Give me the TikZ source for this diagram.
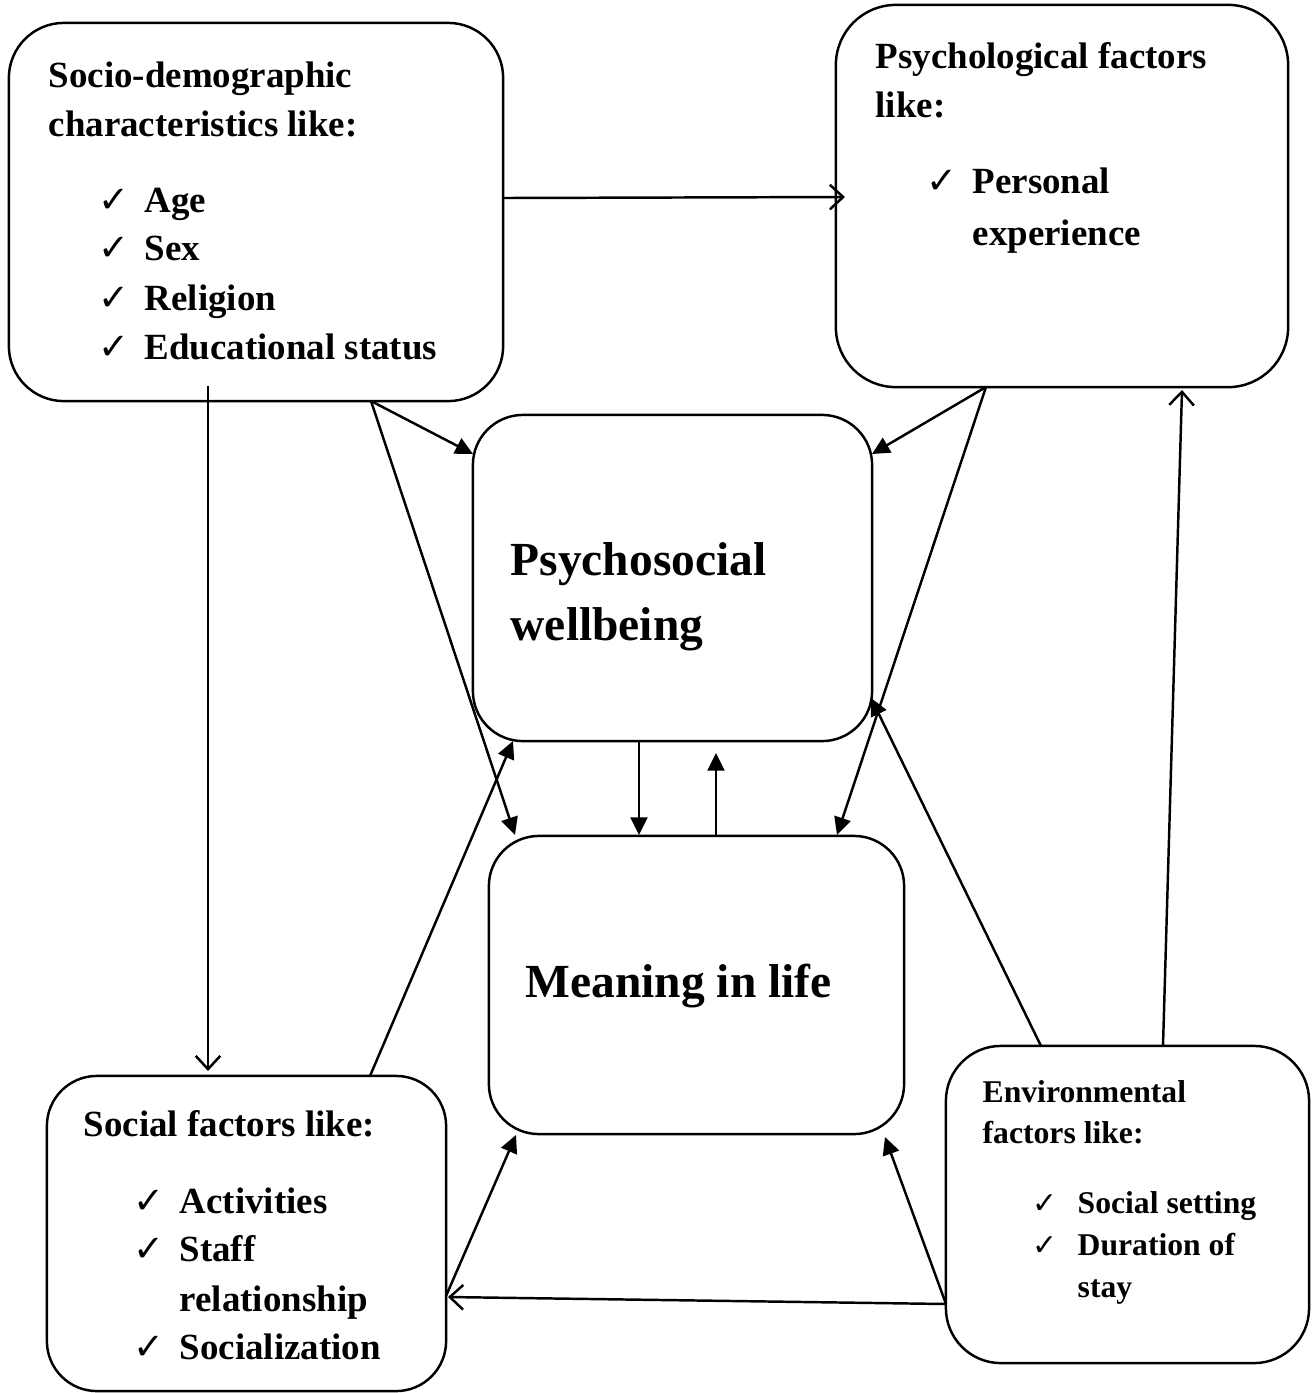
\documentclass[tikz,border=0pt]{standalone}
\usepackage{fontspec}
\setmainfont{Liberation Serif}
\newfontfamily\chkfont{DejaVu Sans}
\usetikzlibrary{arrows.meta}
\begin{document}
\begin{tikzpicture}[x=0.01cm,y=-0.01cm,
  box/.style={draw, line width=0.7pt, rounded corners=0.5cm, inner sep=0pt, rectangle},
  txt/.style={anchor=base west, inner sep=0pt, font=\bfseries\fontsize{10.5pt}{12pt}\selectfont},
  txts/.style={anchor=base west, inner sep=0pt, font=\bfseries\fontsize{9pt}{11pt}\selectfont},
  txtb/.style={anchor=base west, inner sep=0pt, font=\bfseries\fontsize{13.5pt}{16pt}\selectfont},
  ck/.style={anchor=base west, inner sep=0pt, font=\chkfont\fontsize{10.5pt}{12pt}\selectfont},
  cks/.style={anchor=base west, inner sep=0pt, font=\chkfont\fontsize{8.5pt}{10pt}\selectfont},
  fa/.style={line width=0.7pt, -{Triangle[length=5pt,width=4.8pt]}},
  oa/.style={line width=0.7pt, -{Straight Barb[length=3.8pt,width=7pt]}},
]
\useasboundingbox (0,0) rectangle (1315,1393);

% boxes
\node[box, rounded corners=0.55cm, minimum width=4.94cm, minimum height=3.78cm] (socio) at (256,212) {};
\node[box, rounded corners=0.6cm, minimum width=4.52cm, minimum height=3.82cm] (psych) at (1062,196) {};
\node[box, minimum width=3.99cm, minimum height=3.26cm] (psyw) at (672.5,578) {};
\node[box, minimum width=4.15cm, minimum height=2.98cm] (mean) at (696.5,985) {};
\node[box, minimum width=3.99cm, minimum height=3.15cm] (social) at (246.5,1233.5) {};
\node[box, rounded corners=0.55cm, minimum width=3.63cm, minimum height=3.17cm] (env) at (1127.5,1204.5) {};

% socio texts
\node[txt] (s1) at (48,87) {Socio-demographic};
\node[txt] (s2) at (48,136) {characteristics like:};
\node[ck] (sc1) at (98,212) {✓};
\node[txt] (s3) at (144,212) {Age};
\node[ck] (sc2) at (98,260) {✓};
\node[txt] (s4) at (144,260) {Sex};
\node[ck] (sc3) at (98,310) {✓};
\node[txt] (s5) at (144,310) {Religion};
\node[ck] (sc4) at (98,359) {✓};
\node[txt] (s6) at (144,359) {Educational status};

% psych texts
\node[txt] (p1) at (875,68) {Psychological factors};
\node[txt] (p2) at (875,117) {like:};
\node[ck] (pc1) at (926,193) {✓};
\node[txt] (p3) at (972,193) {Personal};
\node[txt] (p4) at (972,245) {experience};

% psychosocial wellbeing
\node[txtb] (w1) at (510,575) {Psychosocial};
\node[txtb] (w2) at (510,640) {wellbeing};

% meaning
\node[txtb] (m1) at (525,997) {Meaning in life};

% social texts
\node[txt] (so1) at (83,1136) {Social factors like:};
\node[ck] (soc1) at (133,1213) {✓};
\node[txt] (so2) at (179,1213) {Activities};
\node[ck] (soc2) at (133,1261) {✓};
\node[txt] (so3) at (179,1261) {Staff};
\node[txt] (so4) at (179,1311) {relationship};
\node[ck] (soc3) at (133,1359) {✓};
\node[txt] (so5) at (179,1359) {Socialization};

% environmental texts
\node[txts] (e1) at (982,1102) {Environmental};
\node[txts] (e2) at (982,1143) {factors like:};
\node[cks] (ec1) at (1032,1213) {✓};
\node[txts] (e3) at (1077,1213) {Social setting};
\node[cks] (ec2) at (1032,1255) {✓};
\node[txts] (e4) at (1077,1255) {Duration of};
\node[txts] (e5) at (1077,1297) {stay};

% connector end points
\coordinate (a1s) at (503,198);   \coordinate (a1e) at (845,197);
\coordinate (a2s) at (208,386);   \coordinate (a2e) at (208,1071);
\coordinate (a3s) at (371,401);   \coordinate (a3e) at (473,454);
\coordinate (a4e) at (515,835);
\coordinate (a5s) at (986,387);   \coordinate (a5e) at (872,454);
\coordinate (a6e) at (837,835);
\coordinate (a7s) at (639,741);   \coordinate (a7e) at (639,835);
\coordinate (a8s) at (716,836);   \coordinate (a8e) at (716,753);
\coordinate (a9s) at (370,1076);  \coordinate (a9e) at (513,741);
\coordinate (a10s) at (1041,1046); \coordinate (a10e) at (871,698);
\coordinate (a11s) at (1163,1046); \coordinate (a11e) at (1182,390);
\coordinate (a12s) at (946,1304);  \coordinate (a12e) at (448,1297);
\coordinate (a13s) at (446,1296);  \coordinate (a13e) at (516,1135);
\coordinate (a14e) at (885,1137);

% connectors
\draw[oa] (a1s) -- (a1e);
\draw[oa] (a2s) -- (a2e);
\draw[fa] (a3s) -- (a3e);
\draw[fa] (a3s) -- (a4e);
\draw[fa] (a5s) -- (a5e);
\draw[fa] (a5s) -- (a6e);
\draw[fa] (a7s) -- (a7e);
\draw[fa] (a8s) -- (a8e);
\draw[fa] (a9s) -- (a9e);
\draw[fa] (a10s) -- (a10e);
\draw[oa] (a11s) -- (a11e);
\draw[oa] (a12s) -- (a12e);
\draw[fa] (a13s) -- (a13e);
\draw[fa] (a12s) -- (a14e);
\end{tikzpicture}
\end{document}
